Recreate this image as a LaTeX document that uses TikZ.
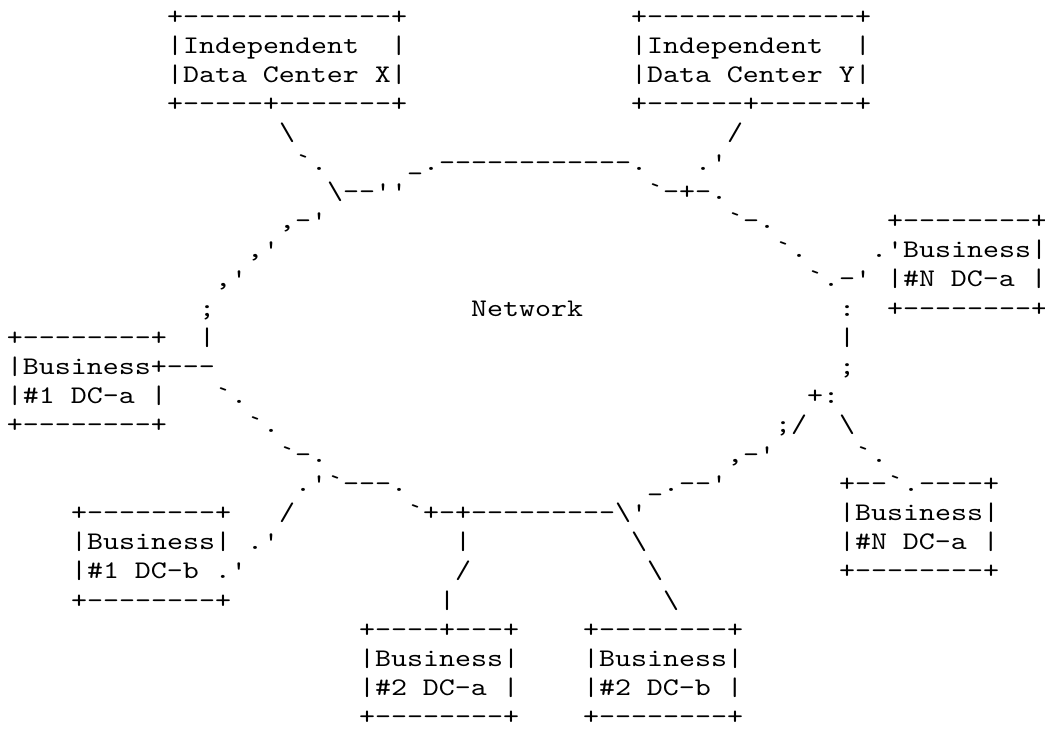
\documentclass[tikz,border=0pt]{standalone}
\usepackage{fontspec}
% typewriter face, widened so one character cell is 16 units wide
\newfontfamily\asciifont{lmmono10-regular.otf}[FakeStretch=1.203, Ligatures=TeXOff]
\begin{document}
\begin{tikzpicture}[x=0.75pt, y=-0.75pt,
  art/.style={anchor=base west, inner sep=0pt, outer sep=0pt,
    font=\asciifont\fontsize{19pt}{19pt}\selectfont}]
\useasboundingbox (0,0) rectangle (1045,729);
% \cell{name}{column}{row}{characters}: one run of characters on the text grid
\newcommand\cell[4]{\node[art] (#1) at ({7+16*#2},{24+29.2*#3}) {#4};}
% data centers X and Y
\cell{dcxTop}{10}{0}{+-------------+}
\cell{dcyTop}{39}{0}{+-------------+}
\cell{dcxA}{10}{1}{|Independent\ \ |}
\cell{dcyA}{39}{1}{|Independent\ \ |}
\cell{dcxB}{10}{2}{|Data Center X|}
\cell{dcyB}{39}{2}{|Data Center Y|}
\cell{dcxBot}{10}{3}{+-----+-------+}
\cell{dcyBot}{39}{3}{+------+------+}
% links down to the network
\cell{lnkXa}{17}{4}{\textbackslash}
\cell{lnkYa}{45}{4}{/}
\cell{lnkXb}{18}{5}{`.}
\cell{netTop}{25}{5}{\_.------------.}
\cell{lnkYb}{43}{5}{.'}
\cell{netNW}{20}{6}{\textbackslash--''}
\cell{netNE}{40}{6}{`-+-.}
% network outline, with business N DC-a (upper)
\cell{arcWa}{17}{7}{,-'}
\cell{arcEa}{45}{7}{`-.}
\cell{bnaTop}{55}{7}{+--------+}
\cell{arcWb}{15}{8}{,'}
\cell{arcEb}{48}{8}{`.}
\cell{bnaA}{54}{8}{.'Business|}
\cell{arcWc}{13}{9}{,'}
\cell{arcEc}{50}{9}{`.-'}
\cell{bnaB}{55}{9}{|\#N DC-a |}
\cell{arcWd}{12}{10}{;}
\cell{net}{29}{10}{Network}
\cell{arcEd}{52}{10}{:}
\cell{bnaBot}{55}{10}{+--------+}
% business 1 DC-a
\cell{b1aTop}{0}{11}{+--------+}
\cell{arcWe}{12}{11}{|}
\cell{arcEe}{52}{11}{|}
\cell{b1aA}{0}{12}{|Business+---}
\cell{arcEf}{52}{12}{;}
\cell{b1aB}{0}{13}{|\#1 DC-a |}
\cell{arcWf}{13}{13}{`.}
\cell{arcEg}{50}{13}{+:}
\cell{b1aBot}{0}{14}{+--------+}
\cell{arcWg}{15}{14}{`.}
\cell{arcEh}{48}{14}{;/}
\cell{lnkNa}{52}{14}{\textbackslash}
\cell{arcWh}{17}{15}{`-.}
\cell{arcEi}{45}{15}{,-'}
\cell{lnkNb}{53}{15}{`.}
\cell{arcWi}{18}{16}{.'`---.}
\cell{arcEj}{40}{16}{\_.--'}
% business N DC-a (lower) and business 1 DC-b
\cell{bnbTop}{52}{16}{+--`.----+}
\cell{b1bTop}{4}{17}{+--------+}
\cell{lnk1a}{17}{17}{/}
\cell{netBot}{25}{17}{`+-+---------\textbackslash'}
\cell{bnbA}{52}{17}{|Business|}
\cell{b1bA}{4}{18}{|Business|}
\cell{lnk1b}{15}{18}{.'}
\cell{lnk2aa}{28}{18}{|}
\cell{lnk2ba}{39}{18}{\textbackslash}
\cell{bnbB}{52}{18}{|\#N DC-a |}
\cell{b1bB}{4}{19}{|\#1 DC-b .'}
\cell{lnk2ab}{28}{19}{/}
\cell{lnk2bb}{40}{19}{\textbackslash}
\cell{bnbBot}{52}{19}{+--------+}
\cell{b1bBot}{4}{20}{+--------+}
\cell{lnk2ac}{27}{20}{|}
\cell{lnk2bc}{41}{20}{\textbackslash}
% business 2 DC-a and DC-b
\cell{b2aTop}{22}{21}{+----+---+}
\cell{b2bTop}{36}{21}{+--------+}
\cell{b2aA}{22}{22}{|Business|}
\cell{b2bA}{36}{22}{|Business|}
\cell{b2aB}{22}{23}{|\#2 DC-a |}
\cell{b2bB}{36}{23}{|\#2 DC-b |}
\cell{b2aBot}{22}{24}{+--------+}
\cell{b2bBot}{36}{24}{+--------+}
\end{tikzpicture}
\end{document}
